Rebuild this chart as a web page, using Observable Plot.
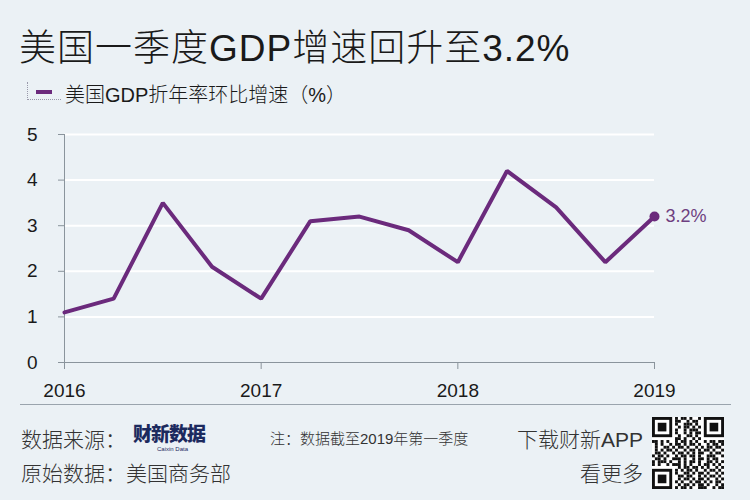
<!DOCTYPE html>
<html><head><meta charset="utf-8">
<script src="https://cdn.jsdelivr.net/npm/d3@7"></script>
<script src="https://cdn.jsdelivr.net/npm/@observablehq/plot@0.6"></script>
<style>
html,body{margin:0;padding:0;}
body{width:750px;height:500px;background:#ebf1f5;font-family:"Liberation Sans","Noto Sans CJK SC",sans-serif;color:#1a1a1a;position:relative;overflow:hidden;}
#title{position:absolute;left:19px;top:18px;font-size:37px;font-weight:300;letter-spacing:1px;white-space:nowrap;}
#legend{position:absolute;left:27px;top:79px;font-size:20px;font-weight:300;white-space:nowrap;}
#legend .sw{position:absolute;left:0;top:3px;width:33px;height:17px;border-left:1px dotted #99a;border-bottom:1px dotted #99a;}
#legend .sw i{position:absolute;left:8px;top:8px;width:16px;height:4px;background:#6b2a7c;}
#legend span{position:absolute;left:38px;top:0;}
#chart{position:absolute;left:0;top:115px;}
#sep{position:absolute;left:20px;top:404px;width:711px;height:1px;background:#9aa4ad;}
.ft{position:absolute;white-space:nowrap;color:#333;font-weight:300;}
</style></head>
<body>
<div id="title">美国一季度GDP增速回升至3.2%</div>
<div id="legend"><div class="sw"><i></i></div><span>美国GDP折年率环比增速（%）</span></div>
<div id="chart"></div>
<div id="sep"></div>
<div class="ft" style="left:21px;top:423px;font-size:21px;">数据来源：</div>
<div class="ft" style="left:133px;top:423px;font-size:19px;line-height:1;font-weight:900;color:#1c2a5e;font-family:'Noto Sans CJK SC';letter-spacing:-1px;">财新数据</div>
<div class="ft" style="left:157px;top:446px;font-size:6px;line-height:1;color:#1c2a5e;">Caixin Data</div>
<div class="ft" style="left:270px;top:427px;font-size:15px;">注：数据截至2019年第一季度</div>
<div class="ft" style="right:107px;top:423px;font-size:21px;">下载财新APP</div>
<div class="ft" style="left:21px;top:457px;font-size:21px;">原始数据：美国商务部</div>
<div class="ft" style="right:107px;top:457px;font-size:21px;">看更多</div>
<svg id="qr" style="position:absolute;left:652px;top:416px;" width="72" height="74" viewBox="0 0 25 25"></svg>
<script>
const quarters = ["2016Q1","2016Q2","2016Q3","2016Q4","2017Q1","2017Q2","2017Q3","2017Q4","2018Q1","2018Q2","2018Q3","2018Q4","2019Q1"];
const growth = [1.1,1.4,3.5,2.1,1.4,3.1,3.2,2.9,2.2,4.2,3.4,2.2,3.2];
const yTicks = [0,1,2,3,4,5];
const xTicks = [2016,2017,2018,2019];
const xTickLabels = ["2016","2017","2018","2019"];

const data = quarters.map((q,i)=>({t:+q.slice(0,4)+(+q.slice(5)-1)/4, v:growth[i]}));
const last = data[data.length-1];
const color = "#6b2a7c";

const plot = Plot.plot({
  width:750, height:290,
  marginLeft:64, marginRight:96, marginTop:19, marginBottom:43,
  style:{background:"transparent", fontFamily:"Liberation Sans, Noto Sans CJK SC, sans-serif", fontSize:"19px", color:"#1a1a1a"},
  x:{domain:[2016,2019], ticks:xTicks, tickFormat:d=>xTickLabels[xTicks.indexOf(d)], label:null},
  y:{domain:[0,5], ticks:yTicks, label:null},
  marks:[
    Plot.gridY(yTicks.slice(1), {stroke:"#ffffff", strokeOpacity:1, strokeWidth:2}),
    Plot.ruleY([0], {stroke:"#8a949c", strokeWidth:1}),
    Plot.ruleX([2016], {stroke:"#8a949c", strokeWidth:1}),
    Plot.axisY({ticks:yTicks, tickFormat:d=>String(d), tickSize:6, tickPadding:21, stroke:"#8a949c", fill:"#1a1a1a", fontSize:19}),
    Plot.axisX({ticks:xTicks, tickFormat:d=>xTickLabels[xTicks.indexOf(d)], tickSize:7, tickPadding:14, stroke:"#8a949c", fill:"#1a1a1a", fontSize:19}),
    Plot.line(data, {x:"t", y:"v", stroke:color, strokeWidth:4, strokeLinejoin:"miter"}),
    Plot.dot([last], {x:"t", y:"v", r:5, fill:color}),
    Plot.text([last], {x:"t", y:"v", text:d=>d.v.toFixed(1)+"%", dx:11, textAnchor:"start", fill:"#6e3f80", fontSize:18})
  ]
});
document.getElementById("chart").appendChild(plot);

// decorative QR-like block
const qr = d3.select("#qr");
qr.append("rect").attr("width",25).attr("height",25).attr("fill","#fff");
const finder=(x,y)=>{qr.append("rect").attr("x",x).attr("y",y).attr("width",7).attr("height",7).attr("fill","#111");
 qr.append("rect").attr("x",x+1).attr("y",y+1).attr("width",5).attr("height",5).attr("fill","#fff");
 qr.append("rect").attr("x",x+2).attr("y",y+2).attr("width",3).attr("height",3).attr("fill","#111");};
finder(0,0);finder(18,0);finder(0,18);
const pat="1011010011100101101001110100101101011001011101001010110100110101101001011101010010110101001011011010100101101011010010110101001101011010010101101100101011010010110101101001011010010110101011001011010110100101";
let k=0;
for(let y=0;y<25;y++)for(let x=0;x<25;x++){
  const inF=(x<8&&y<8)||(x>16&&y<8)||(x<8&&y>16);
  if(inF) continue;
  if(pat[(k++)%pat.length]==="1") qr.append("rect").attr("x",x).attr("y",y).attr("width",1).attr("height",1).attr("fill","#111");
}
</script>
</body></html>
